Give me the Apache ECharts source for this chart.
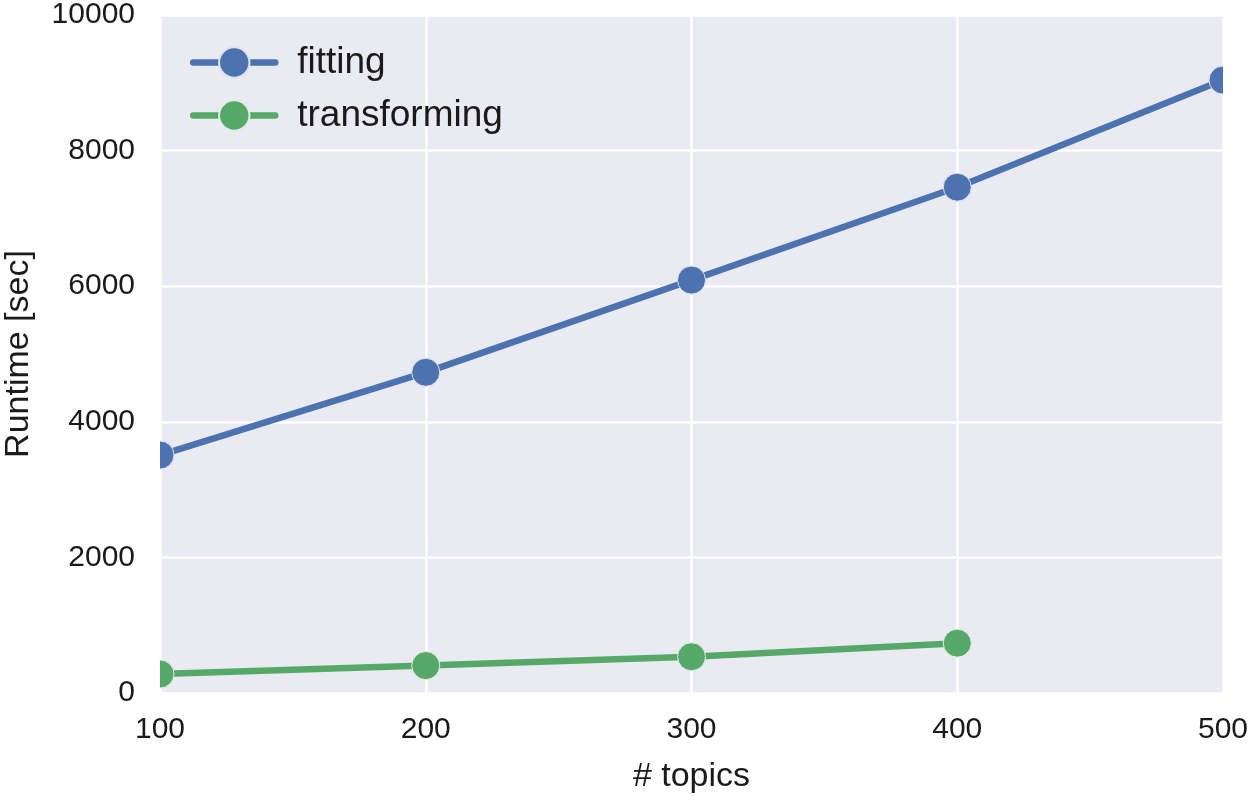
<!DOCTYPE html>
<html>
<head>
<meta charset="utf-8">
<script src="https://cdn.jsdelivr.net/npm/echarts@6/dist/echarts.min.js"></script>
<style>html,body{margin:0;padding:0;background:#fff}#c{width:1250px;height:797px}</style>
</head>
<body>
<div id="c"></div>
<script>
const topics = [100, 200, 300, 400, 500];
const fitting = [3510, 4730, 6090, 7460, 9040];
const transformingTopics = [100, 200, 300, 400];
const transforming = [280, 405, 535, 735];
const xTicks = [100, 200, 300, 400, 500];
const yTicks = [0, 2000, 4000, 6000, 8000, 10000];

const font = '"Liberation Sans", Arial, sans-serif';
const chart = echarts.init(document.getElementById('c'), null, {renderer: 'canvas'});
const gridL = 160, gridR = 27, gridT = 15, gridB = 104;
chart.setOption({
  backgroundColor: '#ffffff',
  animation: false,
  grid: {left: gridL, right: gridR, top: gridT, bottom: gridB, show: true, backgroundColor: '#EAEAF2', borderWidth: 0, outerBoundsMode: 'none'},
  legend: {
    left: 190, top: 44, orient: 'vertical', padding: 0,
    itemWidth: 82, itemHeight: 38, itemGap: 16,
    lineStyle: {width: 6.5, cap: 'round'},
    textStyle: {fontFamily: font, fontSize: 37, color: '#1a1a1a', padding: [0, 0, 0, 17]},
    data: ['fitting', 'transforming']
  },
  xAxis: {
    type: 'value', min: xTicks[0], max: xTicks[xTicks.length - 1], interval: 100,
    name: '# topics', nameLocation: 'middle', nameGap: 67,
    nameTextStyle: {fontFamily: font, fontSize: 34, color: '#1a1a1a'},
    axisLine: {show: false}, axisTick: {show: false},
    axisLabel: {fontFamily: font, fontSize: 30, color: '#1a1a1a', margin: 22, formatter: v => String(v)},
    splitLine: {show: true, lineStyle: {color: '#ffffff', width: 2.5}}
  },
  yAxis: {
    type: 'value', min: yTicks[0], max: yTicks[yTicks.length - 1], interval: 2000,
    name: 'Runtime [sec]', nameLocation: 'middle', nameGap: 124,
    nameTextStyle: {fontFamily: font, fontSize: 34, color: '#1a1a1a'},
    axisLine: {show: false}, axisTick: {show: false},
    axisLabel: {fontFamily: font, fontSize: 30, color: '#1a1a1a', margin: 25, formatter: v => String(v)},
    splitLine: {show: true, lineStyle: {color: '#ffffff', width: 2.5}}
  },
  series: [
    {
      name: 'fitting', type: 'line', clip: false,
      data: topics.map((t, i) => [t, fitting[i]]),
      symbol: 'circle', symbolSize: 28,
      lineStyle: {color: '#4C72B0', width: 6.5},
      itemStyle: {color: '#4C72B0', borderColor: '#dfe3ef', borderWidth: 1}
    },
    {
      name: 'transforming', type: 'line', clip: false,
      data: transformingTopics.map((t, i) => [t, transforming[i]]),
      symbol: 'circle', symbolSize: 28,
      lineStyle: {color: '#55A868', width: 6.5},
      itemStyle: {color: '#55A868', borderColor: '#e0eee3', borderWidth: 1}
    }
  ],
  graphic: [
    {type: 'rect', z: 100, shape: {x: gridL - 20, y: 0, width: 20, height: 797 - gridB}, style: {fill: '#ffffff'}},
    {type: 'rect', z: 100, shape: {x: 1250 - gridR, y: 0, width: gridR, height: 797 - gridB}, style: {fill: '#ffffff'}}
  ]
});
</script>
</body>
</html>
